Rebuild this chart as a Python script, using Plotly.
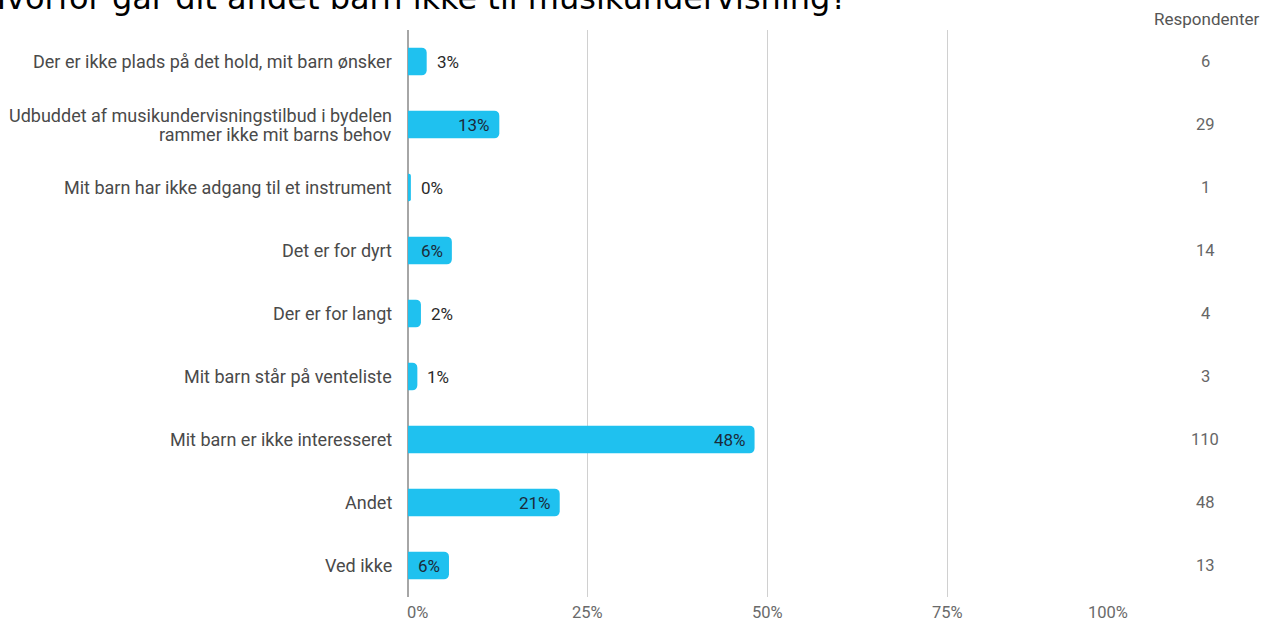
import plotly.graph_objects as go

title = "Hvorfor går dit andet barn ikke til musikundervisning?"
categories = [
    "Der er ikke plads på det hold, mit barn ønsker",
    "Udbuddet af musikundervisningstilbud i bydelen<br>rammer ikke mit barns behov",
    "Mit barn har ikke adgang til et instrument",
    "Det er for dyrt",
    "Der er for langt",
    "Mit barn står på venteliste",
    "Mit barn er ikke interesseret",
    "Andet",
    "Ved ikke",
]
pct = [2.6, 12.7, 0.4, 6.1, 1.8, 1.3, 48.2, 21.1, 5.7]
pct_labels = ["3%", "13%", "0%", "6%", "2%", "1%", "48%", "21%", "6%"]
label_inside = [False, True, False, True, False, False, True, True, True]
respondents = [6, 29, 1, 14, 4, 3, 110, 48, 13]
tick_vals = [0, 25, 50, 75, 100]
tick_text = ["0%", "25%", "50%", "75%", "100%"]

W, H = 1261, 623
L, R, T, B = 408, 134, 30, 26
pw = W - L - R
ph = H - T - B

fig = go.Figure()
fig.add_trace(go.Bar(
    y=categories, x=pct, orientation="h",
    marker=dict(color="#1FC1EF", line=dict(width=0)),
    width=0.44, hoverinfo="skip",
))

ann = []
# category labels (each line placed separately for tighter line spacing)
line_gap = 19
for c in categories:
    lines = c.split("<br>")
    n = len(lines)
    for i, ln in enumerate(lines):
        ann.append(dict(
            x=0, y=c, xref="paper", yref="y", text=ln, showarrow=False,
            xanchor="right", xshift=-14, yanchor="middle",
            yshift=((n - 1) / 2 - i) * line_gap,
            font=dict(family="Roboto", size=18, color="#4a4a4a"),
        ))
for c, v, lab, ins in zip(categories, pct, pct_labels, label_inside):
    ann.append(dict(
        x=v, y=c, xref="x", yref="y", text=lab, showarrow=False,
        xanchor="right" if ins else "left", xshift=-7 if ins else 8,
        font=dict(family="Roboto", size=17,
                  color="#1b2b3a" if ins else "#2a2a2a"),
    ))
for c, n in zip(categories, respondents):
    ann.append(dict(
        x=(1205 - L) / pw, y=c, xref="paper", yref="y", text=str(n),
        showarrow=False, xanchor="center",
        font=dict(family="Roboto", size=16.5, color="#666666"),
    ))
for tv, tt in zip(tick_vals, tick_text):
    if tv == tick_vals[0]:
        xa, xs = "left", -3
    elif tv == tick_vals[-1]:
        xa, xs = "right", 3
    else:
        xa, xs = "center", 0
    ann.append(dict(
        x=tv, y=-(612 - (H - B)) / ph, xref="x", yref="paper", text=tt,
        showarrow=False, xanchor=xa, xshift=xs, yanchor="middle",
        font=dict(family="Roboto", size=16.5, color="#6a6a6a"),
    ))
ann.append(dict(
    x=(1206 - L) / pw, y=1 + (T - 19) / ph, xref="paper", yref="paper",
    text="Respondenter", showarrow=False, xanchor="center", yanchor="middle",
    font=dict(family="Roboto", size=17, color="#555555"),
))
ann.append(dict(
    x=(-20 - L) / pw, y=1 + (T - 19) / ph, xref="paper", yref="paper",
    text=title, showarrow=False, xanchor="left", yanchor="bottom",
    font=dict(family="DejaVu Sans", size=32, color="#000000"),
))

fig.update_layout(
    width=W, height=H,
    margin=dict(l=L, r=R, t=T, b=B, pad=0),
    plot_bgcolor="white", paper_bgcolor="white",
    showlegend=False,
    barcornerradius=5,
    annotations=ann,
    xaxis=dict(
        range=[0, 100], tickvals=tick_vals, showticklabels=False,
        showgrid=True, gridcolor="#d0d0d0", gridwidth=1,
        zeroline=True, zerolinecolor="#a6a6a6", zerolinewidth=2,
        showline=False, ticks="",
        fixedrange=True,
    ),
    yaxis=dict(
        autorange="reversed", showgrid=False, zeroline=False, showline=False,
        showticklabels=False, ticks="",
        fixedrange=True,
    ),
)

fig.write_html(
    "out.html",
    config={"displayModeBar": False},
    post_script="document.body.style.margin='0';document.body.style.overflow='hidden';",
)
